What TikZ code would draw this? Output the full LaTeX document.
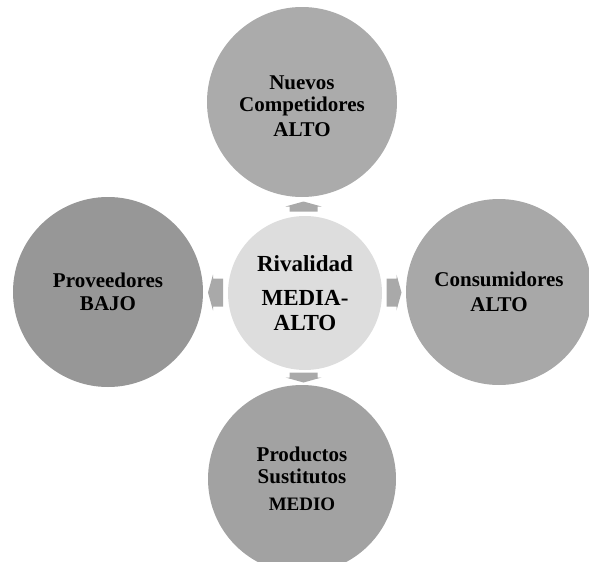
\documentclass[tikz,border=0pt]{standalone}
\usepackage{fontspec}
\setmainfont{Liberation Serif}
\usetikzlibrary{calc}
\definecolor{ringA}{HTML}{ABABAB}
\definecolor{ringB}{HTML}{A8A8A8}
\definecolor{ringC}{HTML}{A2A2A2}
\definecolor{ringD}{HTML}{979797}
\definecolor{hub}{HTML}{DDDDDD}
\definecolor{arrowgray}{HTML}{A9A9A9}
% block arrow: #1 centre, #2 direction angle, #3 total length
\newcommand{\outarrow}[3]{%
  \fill[arrowgray,shift={(#1)},rotate=#2]
    (-#3/2,-14) -- (#3/2-5,-14) -- (#3/2-5,-18) -- (#3/2,0)
    -- (#3/2-5,18) -- (#3/2-5,14) -- (-#3/2,14) -- cycle;}
\begin{document}
\begin{tikzpicture}[x=1pt,y=-1pt,
  force/.style={circle,inner sep=0pt,align=center,text=black,
    font=\fontsize{21}{22}\selectfont\bfseries},
  hubstyle/.style={force,fill=hub,minimum size=154pt,
    font=\fontsize{23}{25}\selectfont\bfseries}]
\useasboundingbox (0,0) rectangle (589,562);
% rivalry hub and the four forces
\node[hubstyle] (hubnode) at (305,293) {Rivalidad\\[9pt]MEDIA-\\ALTO};
\node[force,fill=ringA,minimum size=190pt] (entrants) at (302,102)
  {\rule{0pt}{22pt}Nuevos\\Competidores\\[3pt]ALTO};
\node[force,fill=ringB,minimum size=186pt] (buyers) at (499,292)
  {Consumidores\\[3pt]ALTO};
\node[force,fill=ringC,minimum size=188pt] (substitutes) at (302,479)
  {Productos\\Sustitutos\\[5pt]{\fontsize{19}{22}\selectfont MEDIO}};
\node[force,fill=ringD,minimum size=190pt] (suppliers) at (108,292)
  {Proveedores\\[1pt]BAJO};
% outward arrows between hub and forces
\coordinate (upArrow) at ($(hubnode.north)!0.5!(entrants.south)$);
\coordinate (downArrow) at ($(hubnode.south)!0.5!(substitutes.north)$);
\coordinate (leftArrow) at ($(hubnode.west)!0.5!(suppliers.east)$);
\coordinate (rightArrow) at ($(hubnode.east)!0.5!(buyers.west)$);
\outarrow{upArrow}{90}{10}
\outarrow{downArrow}{-90}{10}
\outarrow{leftArrow}{180}{15}
\outarrow{rightArrow}{0}{15}
\end{tikzpicture}
\end{document}
